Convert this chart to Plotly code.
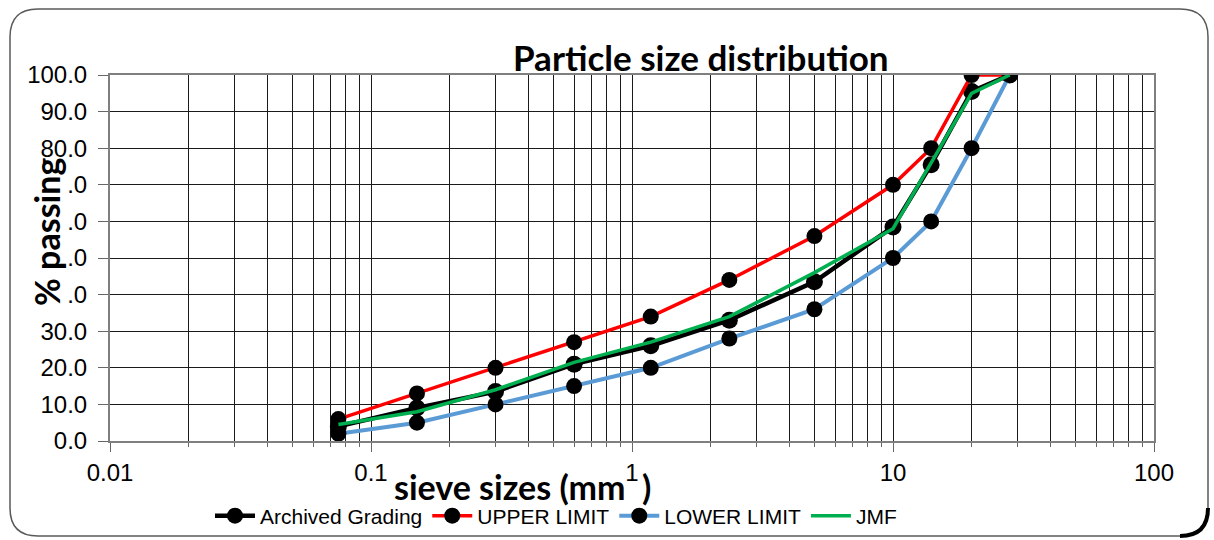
import plotly.graph_objects as go

# ---------------- data ----------------
sieve_mm = [0.075, 0.15, 0.3, 0.6, 1.18, 2.36, 5, 10, 14, 20, 28]
archived = [4.0, 9.0, 13.5, 21.0, 26.0, 33.0, 43.5, 58.5, 75.5, 95.5, 100.0]
upper_limit = [6.0, 13.0, 20.0, 27.0, 34.0, 44.0, 56.0, 70.0, 80.0, 100.0, 100.0]
lower_limit = [2.0, 5.0, 10.0, 15.0, 20.0, 28.0, 36.0, 50.0, 60.0, 80.0, 100.0]
jmf = [4.5, 8.0, 14.0, 21.5, 27.0, 34.0, 46.0, 58.0, 76.0, 95.0, 100.0]

y_tickvals = [0, 10, 20, 30, 40, 50, 60, 70, 80, 90, 100]
y_ticktext = ["0.0", "10.0", "20.0", "30.0", ".0", ".0", ".0", ".0", "80.0", "90.0", "100.0"]
x_tickvals = [0.01, 0.1, 1, 10, 100]
x_ticktext = ["0.01", "0.1", "1", "10", "100"]
decades = [0.01, 0.1, 1, 10]
digits = [2, 3, 4, 5, 6, 7, 8, 9]
x_minor_vals = [d * m for d in decades for m in digits]

# ---------------- layout helpers (pixel -> paper) ----------------
W, H = 1214, 540
L, R, T, B = 110, 1154, 75, 441


def px(x):
    return (x - L) / (R - L)


def py(y):
    return (B - y) / (B - T)


fig = go.Figure()

fig.add_trace(go.Scatter(
    x=sieve_mm, y=archived, name="Archived Grading", mode="lines+markers",
    line=dict(color="black", width=4.5),
    marker=dict(color="black", size=17)))
fig.add_trace(go.Scatter(
    x=sieve_mm, y=upper_limit, name="UPPER LIMIT", mode="lines+markers",
    line=dict(color="#ff0000", width=3.5),
    marker=dict(color="black", size=16)))
fig.add_trace(go.Scatter(
    x=sieve_mm, y=lower_limit, name="LOWER LIMIT", mode="lines+markers",
    line=dict(color="#5b9bd5", width=4),
    marker=dict(color="black", size=16)))
fig.add_trace(go.Scatter(
    x=sieve_mm, y=jmf, name="JMF", mode="lines",
    line=dict(color="#00b050", width=3.5)))

axis_font = dict(family="Liberation Sans, Arial, sans-serif", size=24, color="black")

fig.update_xaxes(
    type="log", range=[-2, 2],
    tickvals=x_tickvals, ticktext=x_ticktext,
    tickfont=axis_font, ticklabelstandoff=0,
    showgrid=True, gridcolor="#1a1a1a", gridwidth=1,
    ticks="outside", ticklen=9, tickcolor="#666", tickwidth=1,
    showline=True, linecolor="#7f7f7f", linewidth=2, mirror=True,
    minor=dict(tickvals=x_minor_vals, showgrid=True, gridcolor="#1a1a1a", gridwidth=1,
               ticks="outside", ticklen=4, tickcolor="#666"),
    zeroline=False, automargin=False,
)
fig.update_yaxes(
    range=[0, 100],
    tickvals=y_tickvals, ticktext=y_ticktext,
    tickfont=axis_font, ticklabelstandoff=6,
    showgrid=True, gridcolor="#1a1a1a", gridwidth=1,
    ticks="outside", ticklen=10, tickcolor="#666", tickwidth=1,
    showline=True, linecolor="#7f7f7f", linewidth=2, mirror=True,
    zeroline=False, automargin=False,
)

bold_font = "Lato, Open Sans, sans-serif"

annotations = [
    dict(text="<b>Particle size distribution</b>", x=px(701), y=py(57),
         xref="paper", yref="paper", showarrow=False,
         font=dict(family=bold_font, size=35, color="black"),
         xanchor="center", yanchor="middle"),
    dict(text="<b>% passing</b>", x=px(46), y=py(232),
         xref="paper", yref="paper", showarrow=False, textangle=-90,
         font=dict(family=bold_font, size=34, color="black"),
         xanchor="center", yanchor="middle"),
    dict(text="<b>sieve sizes (mm</b>", x=px(628), y=py(486),
         xref="paper", yref="paper", showarrow=False,
         font=dict(family=bold_font, size=34, color="black"),
         xanchor="right", yanchor="middle"),
    dict(text="<b>)</b>", x=px(640), y=py(486),
         xref="paper", yref="paper", showarrow=False,
         font=dict(family=bold_font, size=34, color="black"),
         xanchor="left", yanchor="middle"),
]

# rounded outer frame
x0, y0, x1, y1, r = 10, 9, 1208, 536, 28
path = (f"M {px(x0+r)},{py(y0)} L {px(x1-r)},{py(y0)} "
        f"Q {px(x1)},{py(y0)} {px(x1)},{py(y0+r)} "
        f"L {px(x1)},{py(y1-r)} Q {px(x1)},{py(y1)} {px(x1-r)},{py(y1)} "
        f"L {px(x0+r)},{py(y1)} Q {px(x0)},{py(y1)} {px(x0)},{py(y1-r)} "
        f"L {px(x0)},{py(y0+r)} Q {px(x0)},{py(y0)} {px(x0+r)},{py(y0)} Z")
shadow = (f"M {px(x1)},{py(y1-r)} Q {px(x1)},{py(y1)} {px(x1-r)},{py(y1)}")

shapes = [
    dict(type="path", path=path, xref="paper", yref="paper",
         line=dict(color="#595959", width=1.5), layer="below"),
    dict(type="path", path=shadow, xref="paper", yref="paper",
         line=dict(color="black", width=4), layer="below"),
]

fig.update_layout(
    width=W, height=H,
    margin=dict(l=L, r=W - R, t=T, b=H - B, pad=0, autoexpand=False),
    paper_bgcolor="white", plot_bgcolor="white",
    showlegend=True,
    legend=dict(orientation="h", x=px(556), y=py(516), xanchor="center", yanchor="middle",
                font=dict(family="Liberation Sans, Arial, sans-serif", size=21, color="black"),
                bgcolor="rgba(0,0,0,0)", itemwidth=40, tracegroupgap=0),
    annotations=annotations,
    shapes=shapes,
)

fig.write_html("out.html")
